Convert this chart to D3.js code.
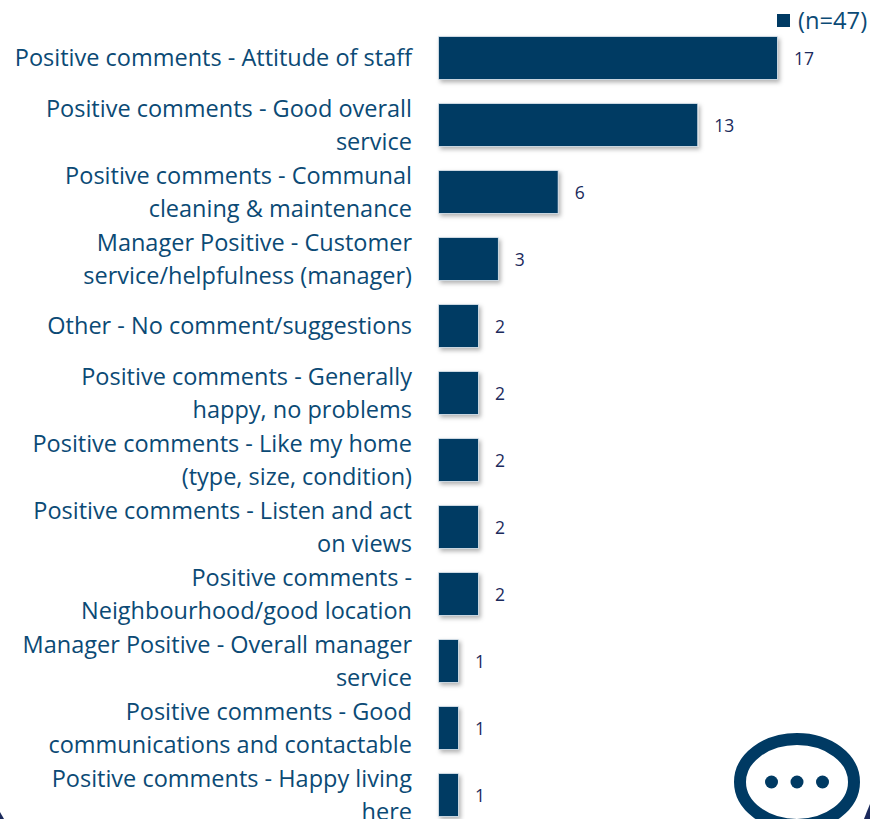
<html>
  <head>
    <script src="https://d3js.org/d3.v7.min.js"></script>
  </head>
  <style>
  body{ margin:0; background:#fff; overflow:hidden; }
  svg{ display:block; }
  text{ font-family:"Open Sans", sans-serif; }
  </style>
  <body>
    <svg id="chart" width="870" height="819"></svg>
    <script>
    const categories = [
      ["Positive comments - Attitude of staff"],
      ["Positive comments - Good overall", "service"],
      ["Positive comments - Communal", "cleaning & maintenance"],
      ["Manager Positive - Customer", "service/helpfulness (manager)"],
      ["Other - No comment/suggestions"],
      ["Positive comments - Generally", "happy, no problems"],
      ["Positive comments - Like my home", "(type, size, condition)"],
      ["Positive comments - Listen and act", "on views"],
      ["Positive comments -", "Neighbourhood/good location"],
      ["Manager Positive - Overall manager", "service"],
      ["Positive comments - Good", "communications and contactable"],
      ["Positive comments - Happy living", "here"]
    ];
    const values = [17, 13, 6, 3, 2, 2, 2, 2, 2, 1, 1, 1];
    const legendLabel = "(n=47)";

    const svg = d3.select("#chart");
    const navy = "#003A63";
    const teal = "#0B4A75";
    const ink = "#1B2A5C";

    const defs = svg.append("defs");
    const shadow = defs.append("filter").attr("id", "shadow")
      .attr("x", "-20%").attr("y", "-20%").attr("width", "150%").attr("height", "150%");
    shadow.append("feDropShadow").attr("dx", 2).attr("dy", 2.5)
      .attr("stdDeviation", 2).attr("flood-color", "#000").attr("flood-opacity", 0.3);

    const x = d3.scaleLinear().domain([0, 17]).range([438.5, 777.5]);
    const y = d3.scaleBand().domain(d3.range(categories.length)).range([24.5, 828.5]).paddingInner(0.36).paddingOuter(0.18);

    // bars
    svg.selectAll("rect.bar").data(values).enter().append("rect")
      .attr("class", "bar")
      .attr("x", x(0))
      .attr("y", (d, i) => y(i))
      .attr("width", d => x(d) - x(0))
      .attr("height", y.bandwidth())
      .attr("fill", navy)
      .attr("stroke", "#DCE6EE")
      .attr("stroke-width", 0.8)
      .attr("filter", "url(#shadow)");

    // value labels
    svg.selectAll("text.value").data(values).enter().append("text")
      .attr("class", "value")
      .attr("x", d => x(d) + 16.5)
      .attr("y", (d, i) => y(i) + y.bandwidth() / 2 + 0.5)
      .attr("dy", "0.35em")
      .attr("font-size", 17.5)
      .attr("fill", ink)
      .text(d => d);

    // category labels
    const labels = svg.selectAll("text.cat").data(categories).enter().append("text")
      .attr("class", "cat")
      .attr("text-anchor", "end")
      .attr("font-size", 23.5)
      .attr("fill", teal);
    labels.each(function(d, i) {
      const mid = y(i) + y.bandwidth() / 2;
      d3.select(this).selectAll("tspan").data(d).enter().append("tspan")
        .attr("x", 412)
        .attr("y", (t, j) => mid + 8 + (j - (d.length - 1) / 2) * 33)
        .text(t => t);
    });

    // legend
    svg.append("rect").attr("x", 777).attr("y", 14).attr("width", 13).attr("height", 13).attr("fill", navy);
    svg.append("text").attr("x", 798).attr("y", 29).attr("font-size", 23.7).attr("fill", teal).text(legendLabel);

    // speech bubble logo
    svg.append("ellipse").attr("cx", 797).attr("cy", 782).attr("rx", 57).attr("ry", 43)
      .attr("fill", "#fff").attr("stroke", navy).attr("stroke-width", 12);
    svg.selectAll("circle.dot").data([-25.5, 0, 25.5]).enter().append("circle")
      .attr("class", "dot").attr("cx", d => 797 + d).attr("cy", 782).attr("r", 6.5).attr("fill", navy);

    // slide border corners poking in at the bottom
    svg.append("path").attr("d", "M0,812 L4,819 L0,819 Z").attr("fill", ink);
    svg.append("path").attr("d", "M870,804 L870,819 L864,819 Q867,811 870,804 Z").attr("fill", ink);
    </script>
  </body>
</html>
